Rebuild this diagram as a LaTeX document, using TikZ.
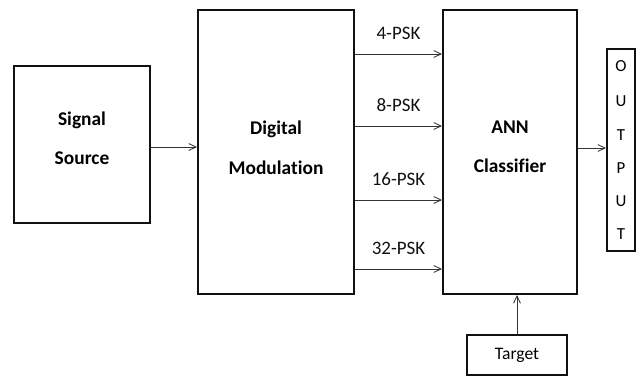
\documentclass[tikz,border=0pt]{standalone}
\usepackage{fontspec}
\setmainfont[Ligatures=NoCommon]{Carlito}
\usetikzlibrary{positioning,arrows.meta,calc}
\definecolor{ink}{HTML}{111111}
\definecolor{wirecol}{HTML}{333333}

\begin{document}
\begin{tikzpicture}[x=0.025cm,y=-0.025cm,
  block/.style={draw=ink, line width=1.4pt, fill=white, inner sep=0pt},
  blocktext/.style={align=center, font=\fontsize{13.8}{28}\selectfont\bfseries},
  smallbox/.style={draw=ink, line width=1.4pt, fill=white, inner sep=0pt, align=center, font=\fontsize{12.5}{15}\selectfont},
  wire/.style={draw=wirecol, line width=0.6pt, -{Straight Barb[length=1.8mm,width=1.7mm]}},
  tag/.style={font=\fontsize{13.5}{15}\selectfont, text=ink}]
\useasboundingbox (0,0) rectangle (641,376);
% blocks
\node[block, minimum width=3.4cm, minimum height=3.925cm,
  label={[blocktext, yshift=0.16cm]center:{Signal\\Source}}] (src) at (82,144.5) {};
\node[block, minimum width=3.9cm, minimum height=7.1cm,
  label={[blocktext, yshift=0.11cm]center:{Digital\\Modulation}}] (mod) at (276,152) {};
\node[block, minimum width=3.35cm, minimum height=7.1cm,
  label={[blocktext, yshift=0.13cm]center:{ANN\\Classifier}}] (ann) at (510,152) {};
\node[smallbox, minimum width=0.7cm, minimum height=5.05cm, font=\fontsize{12}{23.6}\selectfont] (out) at (621,150) {\raisebox{0.06cm}{O}\\U\\T\\P\\U\\T};
\node[smallbox, minimum width=2.5cm, minimum height=1cm] (tgt) at (517,355) {Target};
% connectors
\draw[wire] (src.east |- 0,147) -- (mod.west |- 0,147);
\foreach \y/\t in {54/4-PSK,126/8-PSK,200/16-PSK,269/32-PSK}
  \draw[wire] (mod.east |- 0,\y) -- node[tag, yshift=0.52cm] {\t} (ann.west |- 0,\y);
\draw[wire] (ann.east |- 0,148) -- (out.west |- 0,148);
\draw[wire] (tgt.north) -- (tgt.north |- ann.south);
\end{tikzpicture}
\end{document}
